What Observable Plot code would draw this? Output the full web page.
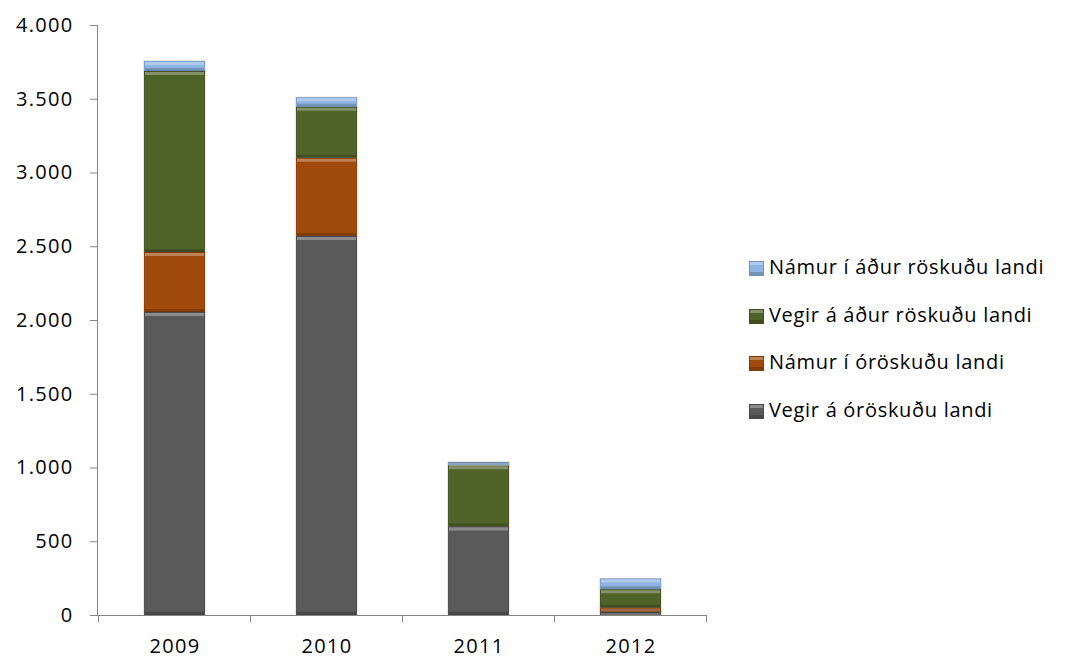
<!DOCTYPE html>
<html><head><meta charset="utf-8">
<script src="https://cdn.jsdelivr.net/npm/d3@7"></script>
<script src="https://cdn.jsdelivr.net/npm/@observablehq/plot@0.6"></script>
<style>
body{margin:0;background:#fff;font-family:"Open Sans",sans-serif;}
#wrap{position:relative;width:1068px;height:659px;}
#legend{position:absolute;left:749px;top:253px;font-size:20px;letter-spacing:0.7px;color:#000;}
#legend div{height:47.5px;display:flex;align-items:flex-start;white-space:nowrap;}
#legend span.sw{display:inline-block;width:15px;height:15px;margin-right:5px;margin-top:8px;box-sizing:border-box;box-shadow:inset 0 3px 0 rgba(255,255,255,0.3), inset 0 -3px 0 rgba(0,0,0,0.2);}
svg text{letter-spacing:1.3px;}
</style></head><body>
<div id="wrap"><div id="chart"></div><div id="legend"></div></div>
<script>
const years = ["2009","2010","2011","2012"];
const series = ["Vegir á óröskuðu landi","Námur í óröskuðu landi","Vegir á áður röskuðu landi","Námur í áður röskuðu landi"];
const vegirOroskud = [2054, 2570, 600, 20];
const namurOroskud = [407, 530, 0, 30];
const vegirRoskud = [1227, 345, 415, 125];
const namurRoskud = [68, 65, 22, 72];
const colors = ["#5a5a5a", "#a04b0b", "#4f6228", "#8db4e2"];
const yTicks = [0,500,1000,1500,2000,2500,3000,3500,4000];

const values = [vegirOroskud, namurOroskud, vegirRoskud, namurRoskud];
const data = [];
series.forEach((s, si) => years.forEach((y, yi) => data.push({year: y, series: s, value: values[si][yi]})));

const fmt = d => d3.format(",")(d).replace(/,/g, ".");
const nonzero = d => d.value > 0;

const plot = Plot.plot({
  width: 1068, height: 659,
  marginLeft: 97, marginRight: 361, marginTop: 25, marginBottom: 44,
  style: {fontFamily: "'Open Sans', sans-serif", fontSize: "20px", color: "#000"},
  x: {domain: years, paddingInner: 0.6, paddingOuter: 0.3, label: null},
  y: {domain: [0, 4000], label: null},
  color: {domain: series, range: colors},
  marks: [
    Plot.barY(data, {x: "year", y: "value", fill: "series", order: series, stroke: "#00000030", strokeWidth: 1}),
    // bevel: light top edge, dark bottom edge of each segment
    Plot.tickY(data, Plot.stackY2({x: "year", y: "value", z: "series", order: series, filter: nonzero, stroke: "#ffffff", strokeOpacity: 0.3, strokeWidth: 3, dy: 2, inset: 1})),
    Plot.tickY(data, Plot.stackY1({x: "year", y: "value", z: "series", order: series, filter: nonzero, stroke: "#000000", strokeOpacity: 0.18, strokeWidth: 3, dy: -2, inset: 1})),
    Plot.frame({anchor: "left", stroke: "#868686"}),
    Plot.ruleY([0], {stroke: "#868686"}),
    Plot.axisY({ticks: yTicks, tickFormat: fmt, tickSize: 7, tickPadding: 17, stroke: "#868686", fill: "#000", fontSize: 20}),
    Plot.axisX({tickSize: 0, tickPadding: 23, fill: "#000", fontSize: 20})
  ]
});
document.getElementById("chart").appendChild(plot);

// category boundary ticks on the x axis using the plot's own x scale
const xs = plot.scale("x");
const step = xs.step, bw = xs.bandwidth;
const y0 = plot.scale("y").apply(0);
const svg = d3.select(plot);
const bounds = years.map(y => xs.apply(y) + bw/2 - step/2);
bounds.push(xs.apply(years[years.length-1]) + bw/2 + step/2);
svg.append("g").selectAll("line").data(bounds).join("line")
  .attr("x1", d => d).attr("x2", d => d).attr("y1", y0).attr("y2", y0 + 7)
  .attr("stroke", "#868686");

// legend
const leg = d3.select("#legend");
series.slice().reverse().forEach((s, i) => {
  const c = colors[colors.length - 1 - i];
  const row = leg.append("div");
  row.append("span").attr("class", "sw").style("background", c).style("border", "1px solid #00000030");
  row.append("span").text(s);
});
</script>
</body></html>
